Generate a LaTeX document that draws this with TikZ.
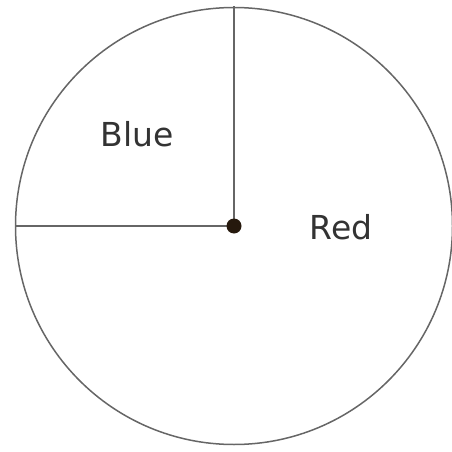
\documentclass[tikz,border=0pt]{standalone}
\usepackage{fontspec}
\setmainfont{DejaVu Sans}
\begin{document}
\begin{tikzpicture}[x=1pt,y=1pt,
  edge/.style={draw=black!60,line width=1.5pt},
  lbl/.style={font=\fontsize{33}{36}\selectfont,text=black!80,inner sep=0pt}]
\useasboundingbox (0,0) rectangle (452,451);
\coordinate (c) at (234,225);
\draw[edge] (c) circle (218.5);
\coordinate (top) at (234,445);
\coordinate (left) at (15.5,225);
\draw[edge] (c) -- (top);
\draw[edge] (c) -- (left);
\fill[black!80!brown] (c) circle (7.5);
\node[lbl] (blue) at (137,316.5) {Blue};
\node[lbl] (red) at (341,224) {Red};
\end{tikzpicture}
\end{document}
